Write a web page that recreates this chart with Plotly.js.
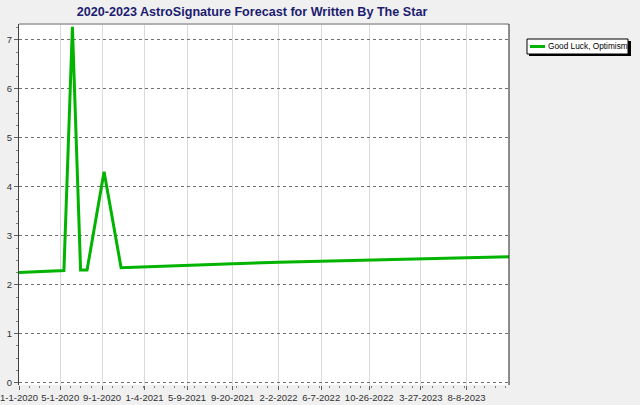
<!DOCTYPE html>
<html>
<head>
<meta charset="utf-8">
<script src="https://cdn.plot.ly/plotly-3.0.1.min.js"></script>
<style>
html,body{margin:0;padding:0;background:#f0f0f0;}
#chart{width:640px;height:405px;}
</style>
</head>
<body>
<div id="chart"></div>
<script>
const chartTitle = '2020-2023 AstroSignature Forecast for Written By The Star';
const seriesName = 'Good Luck, Optimism';
const dates = ['2020-01-01','2020-05-12','2020-06-06','2020-06-30','2020-07-19','2020-09-07','2020-10-27','2021-01-04','2021-05-09','2021-09-20','2022-02-02','2022-06-07','2022-10-26','2023-03-27','2023-08-08','2023-12-11'];
const values = [2.25,2.29,7.27,2.30,2.30,4.31,2.35,2.37,2.40,2.43,2.46,2.48,2.51,2.54,2.56,2.57];
const tickDates = ['2020-01-01','2020-05-01','2020-09-01','2021-01-04','2021-05-09','2021-09-20','2022-02-02','2022-06-07','2022-10-26','2023-03-27','2023-08-08'];
const tickLabels = ['1-1-2020','5-1-2020','9-1-2020','1-4-2021','5-9-2021','9-20-2021','2-2-2022','6-7-2022','10-26-2022','3-27-2023','8-8-2023'];
const yTicks = [0,1,2,3,4,5,6,7];

// plot area geometry in pixels
const L = 19, R = 509, T = 24, B = 385, W = 640, H = 405;
const px = x => (x - L) / (R - L);
const py = y => (B - y) / (B - T);
const green = '#00b400';

const trace = {
  x: dates, y: values, type: 'scatter', mode: 'lines', name: seriesName,
  line: {color: green, width: 3}, showlegend: false, hoverinfo: 'x+y'
};

const layout = {
  width: W, height: H,
  paper_bgcolor: '#f0f0f0', plot_bgcolor: '#ffffff',
  margin: {l: L, r: W - R, t: T, b: H - B, pad: 0},
  title: {
    text: '<b>' + chartTitle + '</b>',
    font: {family: 'Liberation Sans, Arial, sans-serif', size: 12.6, color: '#1c1c70'},
    xref: 'container', yref: 'container', x: 252 / W, xanchor: 'center', y: 1 - 12 / H, yanchor: 'middle'
  },
  xaxis: {
    type: 'date', range: ['2020-01-01', '2023-12-11'],
    tickmode: 'array', tickvals: tickDates, ticktext: tickLabels,
    ticks: 'outside', ticklen: 4, tickcolor: '#606060', tickwidth: 1,
    ticklabeloverflow: 'allow',
    showgrid: true, gridcolor: '#d9d9d9', gridwidth: 1,
    showline: false, zeroline: false,
    tickfont: {family: 'Liberation Sans, Arial, sans-serif', size: 9.5, color: '#303030'},
    minor: {ticks: 'outside', ticklen: 2, tickcolor: '#808080', dtick: 'M1', showgrid: false},
    fixedrange: true
  },
  yaxis: {
    range: [-0.047, 7.326],
    tickmode: 'array', tickvals: yTicks,
    ticks: 'outside', ticklen: 4, tickcolor: '#606060',
    showgrid: true, gridcolor: '#707070', griddash: '3px,3px', gridwidth: 1,
    showline: true, linecolor: '#404040', linewidth: 1,
    zeroline: false,
    tickfont: {family: 'Liberation Sans, Arial, sans-serif', size: 9.5, color: '#303030'},
    minor: {ticks: 'outside', ticklen: 2, tickcolor: '#808080', dtick: 0.25, showgrid: false},
    fixedrange: true
  },
  shapes: [
    // plot frame: top gray, right dark
    {type: 'line', xref: 'paper', yref: 'paper', x0: 0, x1: 1, y0: 1, y1: 1, line: {color: '#b0b0b0', width: 2}},
    {type: 'line', xref: 'paper', yref: 'paper', x0: 1, x1: 1, y0: 0, y1: 1, line: {color: '#202020', width: 1}},
    // legend shadow and box
    {type: 'rect', xref: 'paper', yref: 'paper', x0: px(529), x1: px(631), y0: py(41), y1: py(56), fillcolor: '#000000', line: {width: 0}},
    {type: 'rect', xref: 'paper', yref: 'paper', x0: px(527), x1: px(628), y0: py(39), y1: py(54), fillcolor: '#ffffff', line: {color: '#000000', width: 1}},
    {type: 'line', xref: 'paper', yref: 'paper', x0: px(530), x1: px(545), y0: py(46.5), y1: py(46.5), line: {color: green, width: 3}}
  ],
  annotations: [
    {xref: 'paper', yref: 'paper', x: px(546), y: py(46.5), xanchor: 'left', yanchor: 'middle', showarrow: false,
     text: seriesName, font: {family: 'Liberation Sans, Arial, sans-serif', size: 8.3, color: '#000000'}}
  ]
};

Plotly.newPlot('chart', [trace], layout, {displayModeBar: false, staticPlot: true});
</script>
</body>
</html>
